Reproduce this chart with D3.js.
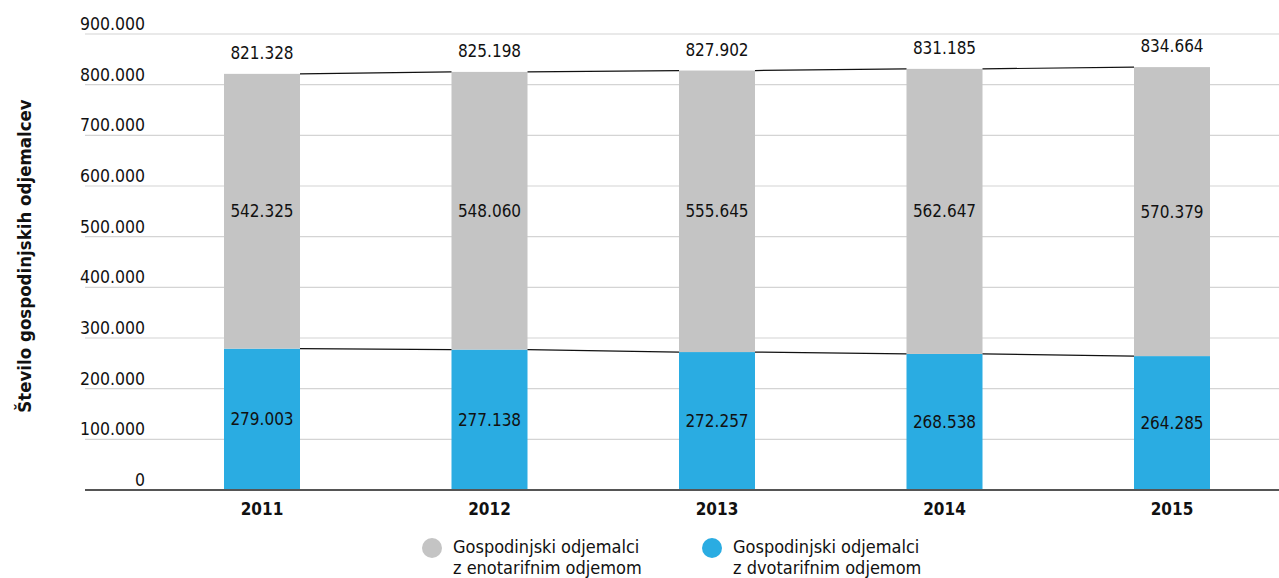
<!DOCTYPE html>
<html>
<head>
<meta charset="utf-8">
<script src="https://cdn.jsdelivr.net/npm/d3@7"></script>
<style>
  body { margin: 0; background: #fff; }
  svg { display: block; font-family: "DejaVu Sans", sans-serif; font-stretch: condensed; }
</style>
</head>
<body>
<script>
// chart data
const years = ['2011', '2012', '2013', '2014', '2015'];
const singleTariff = [542325, 548060, 555645, 562647, 570379];
const dualTariff = [279003, 277138, 272257, 268538, 264285];
const totals = [821328, 825198, 827902, 831185, 834664];
const yTicks = [0, 100000, 200000, 300000, 400000, 500000, 600000, 700000, 800000, 900000];
const legendLabels = [
  ['Gospodinjski odjemalci', 'z enotarifnim odjemom'],
  ['Gospodinjski odjemalci', 'z dvotarifnim odjemom']
];

const WIDTH = 1279;
const HEIGHT = 578;
const GRID_LEFT = 85;
const BAR_WIDTH = 76;
const COLORS = ['#c4c4c4', '#2aace2'];

const fmt = v => d3.format(',')(v).replace(/,/g, '.');

const svg = d3.select('body')
  .append('svg')
    .attr('width', WIDTH)
    .attr('height', HEIGHT);

const x = d3.scalePoint()
    .domain(years)
    .range([262, 1172]);

const y = d3.scaleLinear()
    .domain([0, 900000])
    .range([490, 34]);

// gridlines
svg.append('g')
  .selectAll('line')
  .data(yTicks.slice(1))
  .enter()
  .append('line')
    .attr('x1', GRID_LEFT)
    .attr('x2', WIDTH)
    .attr('y1', d => y(d))
    .attr('y2', d => y(d))
    .attr('stroke', '#d4d4d4')
    .attr('stroke-width', 1.2);

// tick labels
svg.append('g')
  .selectAll('text')
  .data(yTicks)
  .enter()
  .append('text')
    .attr('x', 145)
    .attr('y', d => y(d) - 4)
    .attr('text-anchor', 'end')
    .attr('font-size', 17.5)
    .attr('fill', '#111')
    .text(d => d === 0 ? '0' : fmt(d));

// y axis title
svg.append('text')
  .attr('transform', 'translate(31, 256) rotate(-90)')
  .attr('text-anchor', 'middle')
  .attr('font-size', 18.5)
  .attr('font-weight', 'bold')
  .attr('fill', '#111')
  .text('Število gospodinjskih odjemalcev');

// bars
const bars = svg.append('g');
bars.selectAll('.dual')
  .data(years)
  .enter()
  .append('rect')
    .attr('x', d => x(d) - BAR_WIDTH / 2)
    .attr('y', (d, i) => y(dualTariff[i]))
    .attr('width', BAR_WIDTH)
    .attr('height', (d, i) => y(0) - y(dualTariff[i]))
    .attr('fill', COLORS[1]);

bars.selectAll('.single')
  .data(years)
  .enter()
  .append('rect')
    .attr('x', d => x(d) - BAR_WIDTH / 2)
    .attr('y', (d, i) => y(totals[i]))
    .attr('width', BAR_WIDTH)
    .attr('height', (d, i) => y(dualTariff[i]) - y(totals[i]))
    .attr('fill', COLORS[0]);

// connecting lines between bars
[totals, dualTariff].forEach(series => {
  svg.append('g')
    .selectAll('line')
    .data(years.slice(1))
    .enter()
    .append('line')
      .attr('x1', (d, i) => x(years[i]) + BAR_WIDTH / 2)
      .attr('x2', d => x(d) - BAR_WIDTH / 2)
      .attr('y1', (d, i) => y(series[i]))
      .attr('y2', (d, i) => y(series[i + 1]))
      .attr('stroke', '#111')
      .attr('stroke-width', 1.2);
});

// axis line
svg.append('line')
  .attr('x1', GRID_LEFT)
  .attr('x2', WIDTH)
  .attr('y1', y(0))
  .attr('y2', y(0))
  .attr('stroke', '#555')
  .attr('stroke-width', 2);

// value labels
const labels = svg.append('g')
  .attr('font-size', 17)
  .attr('fill', '#111')
  .attr('text-anchor', 'middle');

labels.selectAll('.total')
  .data(years)
  .enter()
  .append('text')
    .attr('x', d => x(d))
    .attr('y', (d, i) => y(totals[i]) - 15)
    .text((d, i) => fmt(totals[i]));

labels.selectAll('.single')
  .data(years)
  .enter()
  .append('text')
    .attr('x', d => x(d))
    .attr('y', (d, i) => (y(totals[i]) + y(dualTariff[i])) / 2)
    .attr('dy', '0.35em')
    .text((d, i) => fmt(singleTariff[i]));

labels.selectAll('.dual')
  .data(years)
  .enter()
  .append('text')
    .attr('x', d => x(d))
    .attr('y', (d, i) => (y(0) + y(dualTariff[i])) / 2)
    .attr('dy', '0.35em')
    .text((d, i) => fmt(dualTariff[i]));

// year labels
svg.append('g')
  .selectAll('text')
  .data(years)
  .enter()
  .append('text')
    .attr('x', d => x(d))
    .attr('y', 515)
    .attr('text-anchor', 'middle')
    .attr('font-size', 17)
    .attr('font-weight', 'bold')
    .attr('fill', '#111')
    .text(d => d);

// legend
const legend = svg.append('g')
  .selectAll('g')
  .data(legendLabels)
  .enter()
  .append('g')
    .attr('transform', (d, i) => `translate(${432 + i * 280}, 548)`);

legend.append('circle')
  .attr('r', 10)
  .attr('fill', (d, i) => COLORS[i]);

legend.append('text')
  .attr('font-size', 18)
  .attr('fill', '#111')
  .selectAll('tspan')
  .data(d => d)
  .enter()
  .append('tspan')
    .attr('x', 21)
    .attr('y', (d, i) => 5 + i * 21)
    .text(d => d);
</script>
</body>
</html>
